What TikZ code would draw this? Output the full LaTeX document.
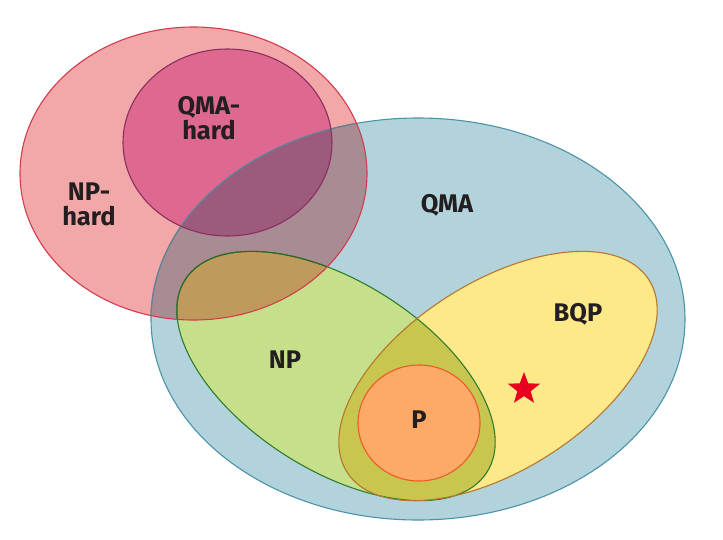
\documentclass[tikz,border=0pt]{standalone}
\usepackage{fontspec}
\setmainfont{Fira Sans}
\usetikzlibrary{shapes.geometric}
\definecolor{qmaF}{HTML}{B3D3DC}
\definecolor{qmaD}{HTML}{4B93A8}
\definecolor{qmaDk}{HTML}{6A7E90}
\definecolor{npF}{HTML}{C6DF8A}
\definecolor{npD}{HTML}{2E7D2E}
\definecolor{npDk}{HTML}{2D6A26}
\definecolor{bqpF}{HTML}{FEE98A}
\definecolor{bqpD}{HTML}{B5772E}
\definecolor{oliveF}{HTML}{C8C64E}
\definecolor{pF}{HTML}{FDAA68}
\definecolor{pD}{HTML}{EF5A24}
\definecolor{nphF}{HTML}{F2A8A8}
\definecolor{nphD}{HTML}{D23C4E}
\definecolor{mauveF}{HTML}{A98B93}
\definecolor{brownF}{HTML}{C09A5C}
\definecolor{qmahF}{HTML}{DF6891}
\definecolor{qmahD}{HTML}{8C2E5E}
\definecolor{purpF}{HTML}{9C5B7D}
\definecolor{starC}{HTML}{E8001E}
\definecolor{txt}{HTML}{231F20}
\begin{document}
\begin{tikzpicture}[x=1pt,y=-1pt,
  lbl/.style={font=\bfseries\fontsize{25.5}{25}\selectfont, text=txt, align=center, inner sep=0pt},
  edge/.style={line width=1.1pt}]
\useasboundingbox (0,0) rectangle (723,539);
\def\pQMA{(418,319) ellipse [x radius=267pt, y radius=201pt]}
\def\pNP{(336,376) ellipse [x radius=179pt, y radius=94pt, rotate=-32.5]}
\def\pBQP{(498,376) ellipse [x radius=179pt, y radius=94pt, rotate=32.5]}
\def\pP{(419,423) ellipse [x radius=61pt, y radius=58pt]}
\def\pNPH{(193.5,173.5) ellipse [x radius=173.5pt, y radius=146.5pt]}
\def\pQMAH{(227.5,142.5) ellipse [x radius=104.5pt, y radius=93.5pt]}
% base fills
\fill[qmaF] \pQMA;
\fill[npF] \pNP;
\fill[bqpF] \pBQP;
\begin{scope}\clip \pNP; \fill[oliveF] \pBQP; \end{scope}
\fill[pF] \pP;
% NP-hard and overlaps
\fill[nphF] \pNPH;
\begin{scope}\clip \pNPH; \fill[mauveF] \pQMA; \fill[brownF] \pNP; \end{scope}
\fill[qmahF] \pQMAH;
\begin{scope}\clip \pQMAH; \fill[purpF] \pQMA; \end{scope}
% outlines
\draw[edge, qmaD] \pQMA;
\draw[edge, npD] \pNP;
\draw[edge, bqpD] \pBQP;
\draw[edge, pD] \pP;
\begin{scope}\clip \pNPH;
  \draw[edge, qmaDk] \pQMA;
  \draw[edge, npDk] \pNP;
\end{scope}
\draw[edge, nphD] \pNPH;
\draw[edge, qmahD] \pQMAH;
% labels
\node[lbl] (nph) at (89,204) {NP-\\hard};
\node[lbl] (qmah) at (209,118) {QMA-\\hard};
\node[lbl] (qma) at (447,205) {QMA};
\node[lbl] (np) at (285,360) {NP};
\node[lbl] (bqp) at (578,314) {BQP};
\node[lbl] (p) at (419,420) {P};
\node[star, star points=5, star point ratio=2.4, fill=starC, minimum size=34pt, inner sep=0pt] (star) at (524,389) {};
\end{tikzpicture}
\end{document}
